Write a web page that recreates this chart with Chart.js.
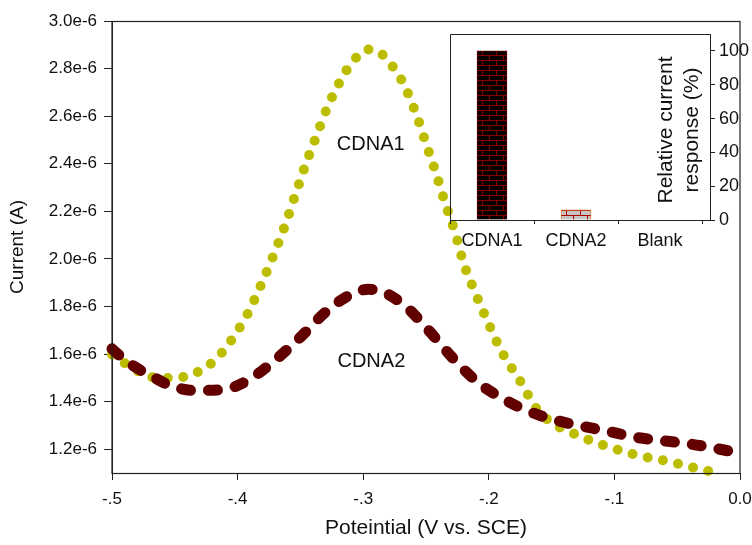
<!DOCTYPE html>
<html>
<head>
<meta charset="utf-8">
<script src="https://cdn.jsdelivr.net/npm/chart.js@4.4.0/dist/chart.umd.min.js"></script>
<style>
body { margin: 0; background: #fff; }
#wrap { position: relative; width: 752px; height: 545px; }
#main { position: absolute; left: 0; top: 0; }
#inset { position: absolute; left: 440px; top: 20px; }
</style>
</head>
<body>
<div id="wrap">
<canvas id="main" width="752" height="545"></canvas>
<canvas id="inset" width="312" height="250"></canvas>
</div>
<script>
// potential (V vs. SCE) and current (in units of 1e-6 A)
var cdna1X = [-0.500, -0.488, -0.476, -0.464, -0.452, -0.441, -0.429, -0.417, -0.407, -0.399,
              -0.392, -0.381, -0.371, -0.362, -0.354, -0.346, -0.337, -0.328, -0.316, -0.308,
              -0.296, -0.285, -0.275, -0.268, -0.258, -0.250, -0.242, -0.235, -0.227, -0.220,
              -0.211, -0.201, -0.190, -0.175, -0.162, -0.150, -0.130, -0.106, -0.082, -0.058,
              -0.034, -0.019];
var cdna1Y = [1.598, 1.555, 1.520, 1.499, 1.499, 1.506, 1.532, 1.580, 1.643, 1.706,
              1.769, 1.895, 2.021, 2.144, 2.270, 2.394, 2.520, 2.643, 2.769, 2.832,
              2.880, 2.860, 2.797, 2.737, 2.611, 2.485, 2.360, 2.238, 2.113, 1.981,
              1.860, 1.737, 1.612, 1.486, 1.370, 1.312, 1.260, 1.212, 1.175, 1.150,
              1.119, 1.101];

var cdna2X = [-0.500, -0.491, -0.477, -0.467, -0.454, -0.433, -0.411, -0.392, -0.372, -0.350,
              -0.330, -0.309, -0.296, -0.288, -0.267, -0.248, -0.229, -0.209, -0.188, -0.167,
              -0.146, -0.125, -0.104, -0.083, -0.062, -0.040, -0.020, 0.000];
var cdna2Y = [1.622, 1.580, 1.531, 1.503, 1.468, 1.447, 1.451, 1.489, 1.566, 1.671,
              1.776, 1.853, 1.872, 1.868, 1.804, 1.700, 1.585, 1.482, 1.410, 1.357,
              1.321, 1.296, 1.274, 1.250, 1.236, 1.222, 1.204, 1.183];

var xTicks = [-0.5, -0.4, -0.3, -0.2, -0.1, 0.0];
var xTickLabels = ['-.5', '-.4', '-.3', '-.2', '-.1', '0.0'];
var yTicks = [1.2, 1.4, 1.6, 1.8, 2.0, 2.2, 2.4, 2.6, 2.8, 3.0];
var yTickLabels = ['1.2e-6', '1.4e-6', '1.6e-6', '1.8e-6', '2.0e-6', '2.2e-6', '2.4e-6', '2.6e-6', '2.8e-6', '3.0e-6'];

// inset: relative current response (%)
var barCategories = ['CDNA1', 'CDNA2', 'Blank'];
var barValues = [100, 6, 0];
var barTicks = [0, 20, 40, 60, 80, 100];

var FONT = 'Liberation Sans, Arial, sans-serif';
var INK = '#111';
var AXIS = '#222';

function brick(bg, line) {
    var c = document.createElement('canvas');
    c.width = 14; c.height = 10;
    var g = c.getContext('2d');
    g.fillStyle = bg;
    g.fillRect(0, 0, 14, 10);
    g.fillStyle = line;
    g.fillRect(0, 0, 14, 1);
    g.fillRect(0, 5, 14, 1);
    g.fillRect(0, 0, 1, 5);
    g.fillRect(7, 5, 1, 5);
    return g.createPattern(c, 'repeat');
}

function toPoints(xs, ys) {
    var pts = [];
    for (var i = 0; i < xs.length; i++) {
        pts.push({ x: xs[i], y: ys[i] });
    }
    return pts;
}

function noPad(s) {
    s.paddingLeft = 0; s.paddingRight = 0;
    s.paddingTop = 0; s.paddingBottom = 0;
}

// box around the plot and the curve names
var mainDecor = {
    id: 'mainDecor',
    afterDraw: function(chart) {
        var a = chart.chartArea, ctx = chart.ctx;
        var sx = chart.scales.x, sy = chart.scales.y;
        ctx.save();
        ctx.strokeStyle = AXIS;
        ctx.lineWidth = 1.2;
        ctx.strokeRect(a.left, a.top + 0.5, a.right - a.left, a.bottom - a.top);
        ctx.fillStyle = INK;
        ctx.font = '20px ' + FONT;
        ctx.textAlign = 'center';
        ctx.textBaseline = 'middle';
        ctx.fillText('CDNA1', sx.getPixelForValue(-0.294), sy.getPixelForValue(2.48));
        ctx.fillText('CDNA2', sx.getPixelForValue(-0.2935), sy.getPixelForValue(1.567));
        ctx.restore();
    }
};

new Chart(document.getElementById('main'), {
    type: 'line',
    data: {
        datasets: [{
            label: 'CDNA1',
            data: toPoints(cdna1X, cdna1Y),
            borderColor: '#bdbd00',
            borderWidth: 10,
            borderDash: [0, 15.5],
            borderCapStyle: 'round',
            pointRadius: 0,
            cubicInterpolationMode: 'monotone',
            clip: false,
            order: 2
        }, {
            label: 'CDNA2',
            data: toPoints(cdna2X, cdna2Y),
            borderColor: '#620000',
            borderWidth: 11,
            borderDash: [9, 18],
            borderCapStyle: 'round',
            pointRadius: 0,
            cubicInterpolationMode: 'monotone',
            clip: false,
            order: 1
        }]
    },
    options: {
        responsive: false,
        animation: false,
        layout: { padding: { left: 0, right: 12, top: 21, bottom: 0 } },
        plugins: { legend: { display: false }, tooltip: { enabled: false } },
        scales: {
            x: {
                type: 'linear',
                min: -0.5,
                max: 0,
                afterBuildTicks: function(s) { s.ticks = xTicks.map(function(v) { return { value: v }; }); },
                afterFit: function(s) { s.height = 72; noPad(s); },
                grid: { drawOnChartArea: false, tickLength: 7, color: AXIS },
                border: { color: AXIS },
                ticks: {
                    color: INK, maxRotation: 0, padding: 9,
                    font: { family: FONT, size: 17 },
                    callback: function(v, i) { return xTickLabels[i]; }
                },
                title: {
                    display: true, text: 'Poteintial (V vs. SCE)', color: INK,
                    font: { family: FONT, size: 21 }, padding: { top: 4, bottom: 4 }
                }
            },
            y: {
                type: 'linear',
                min: 1.1,
                max: 3.0,
                afterBuildTicks: function(s) { s.ticks = yTicks.map(function(v) { return { value: v }; }); },
                afterFit: function(s) { s.width = 112; noPad(s); },
                grid: { drawOnChartArea: false, tickLength: 8, color: AXIS },
                border: { color: AXIS },
                ticks: {
                    color: INK, padding: 7,
                    font: { family: FONT, size: 17 },
                    callback: function(v, i) { return yTickLabels[i]; }
                },
                title: {
                    display: true, text: 'Current (A)', color: INK,
                    font: { family: FONT, size: 19 }, padding: { top: 6, bottom: 6 }
                }
            }
        }
    },
    plugins: [mainDecor]
});

// inset frame and its axis title drawn inside the box
var insetDecor = {
    id: 'insetDecor',
    afterDraw: function(chart) {
        var a = chart.chartArea, ctx = chart.ctx;
        ctx.save();
        ctx.strokeStyle = AXIS;
        ctx.lineWidth = 1;
        ctx.beginPath();
        ctx.moveTo(a.left + 0.5, a.bottom);
        ctx.lineTo(a.left + 0.5, a.top + 0.5);
        ctx.lineTo(a.right, a.top + 0.5);
        ctx.stroke();
        ctx.translate(a.right - 31, (a.top + a.bottom) / 2 + 3);
        ctx.rotate(-Math.PI / 2);
        ctx.fillStyle = INK;
        ctx.font = '21px ' + FONT;
        ctx.textAlign = 'center';
        ctx.textBaseline = 'middle';
        ctx.fillText('Relative current', 0, -13);
        ctx.fillText('response (%)', 0, 13);
        ctx.restore();
    }
};

var ictx = document.getElementById('inset').getContext('2d');

new Chart(ictx, {
    type: 'bar',
    data: {
        datasets: [{
            data: barValues.map(function(v, i) { return { x: i, y: v }; }),
            backgroundColor: [brick('#050000', '#8a0000'), brick('#c6c6c6', '#b00000'), '#c6c6c6'],
            borderColor: ['#6a0000', '#e07a30', '#e07a30'],
            borderWidth: 1,
            barThickness: 30
        }]
    },
    options: {
        responsive: false,
        animation: false,
        layout: { padding: { left: 10, right: 0, top: 14, bottom: 0 } },
        plugins: { legend: { display: false }, tooltip: { enabled: false } },
        scales: {
            x: {
                type: 'linear',
                min: -0.5,
                max: 2.595,
                offset: false,
                afterBuildTicks: function(s) { s.ticks = barCategories.map(function(c, i) { return { value: i }; }); },
                afterFit: function(s) { s.height = 50; noPad(s); },
                grid: { drawOnChartArea: false, tickLength: 4, color: AXIS },
                border: { color: AXIS },
                ticks: {
                    color: INK, maxRotation: 0, padding: 6,
                    font: { family: FONT, size: 18 },
                    callback: function(v, i) { return barCategories[i]; }
                }
            },
            y: {
                position: 'right',
                min: 0,
                max: 110,
                afterBuildTicks: function(s) { s.ticks = barTicks.map(function(v) { return { value: v }; }); },
                afterFit: function(s) { s.width = 42; noPad(s); },
                grid: { drawOnChartArea: false, tickLength: 5, color: AXIS },
                border: { color: AXIS },
                ticks: {
                    color: INK, padding: 4,
                    font: { family: FONT, size: 18 }
                }
            }
        }
    },
    plugins: [insetDecor]
});
</script>
</body>
</html>
